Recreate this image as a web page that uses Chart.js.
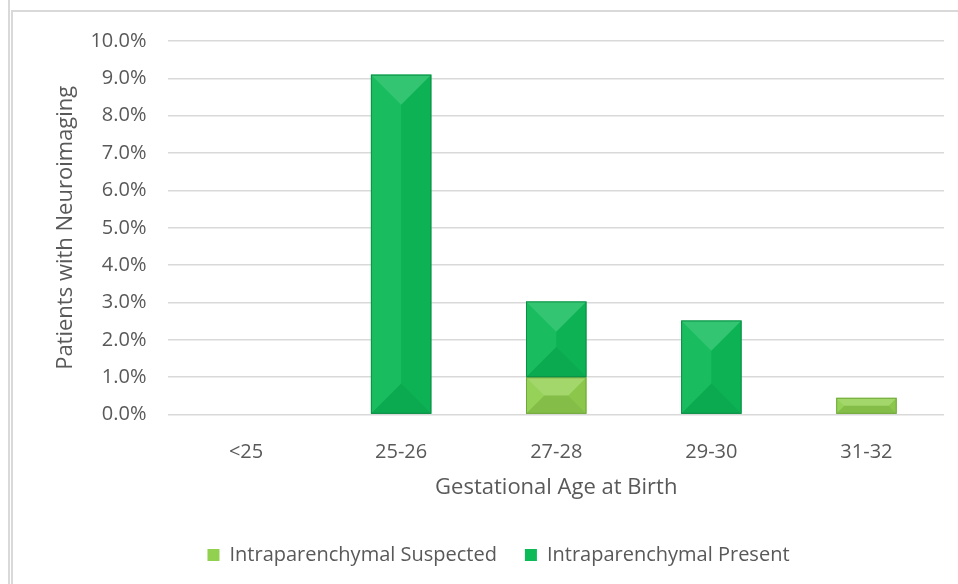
<!DOCTYPE html>
<html>
<head>
<meta charset="utf-8">
<script src="https://cdn.jsdelivr.net/npm/chart.js@4.4.1/dist/chart.umd.min.js"></script>
<style>
  html, body { margin: 0; padding: 0; background: #fff; }
  #page { position: relative; width: 958px; height: 584px; overflow: hidden; }
  #rule { position: absolute; left: 8px; top: 0; width: 2px; height: 584px; background: #d9d9d9; }
  #box { position: absolute; left: 11px; top: 10px; width: 947px; height: 574px;
         border-left: 2px solid #d9d9d9; border-top: 2px solid #d9d9d9; box-sizing: border-box; }
  #wrap { position: absolute; left: 13px; top: 7px; width: 945px; height: 577px; }
</style>
</head>
<body>
<div id="page">
  <div id="rule"></div>
  <div id="box"></div>
  <div id="wrap"><canvas id="chart"></canvas></div>
</div>
<script>
const categories = ['<25', '25-26', '27-28', '29-30', '31-32'];
const suspected = [0, 0, 1.0, 0, 0.45];
const present = [0, 9.1, 2.03, 2.52, 0];
const yTicks = [0, 1, 2, 3, 4, 5, 6, 7, 8, 9, 10];

// draws a pyramid-style bevel over each bar, using the bar elements' own geometry
const bevelPlugin = {
  id: 'bevel',
  afterDatasetsDraw(chart) {
    const ctx = chart.ctx;
    chart.data.datasets.forEach((ds, i) => {
      const meta = chart.getDatasetMeta(i);
      meta.data.forEach(bar => {
        const w = bar.width;
        const top = Math.min(bar.y, bar.base);
        const bottom = Math.max(bar.y, bar.base);
        const h = bottom - top;
        if (h < 1) return;
        const l = bar.x - w / 2, r = bar.x + w / 2;
        const b = Math.min(w / 2, h / 2);
        const face = (pts, color) => {
          ctx.beginPath();
          ctx.moveTo(pts[0][0], pts[0][1]);
          pts.slice(1).forEach(p => ctx.lineTo(p[0], p[1]));
          ctx.closePath();
          ctx.fillStyle = color;
          ctx.fill();
        };
        ctx.save();
        face([[l, top], [r, top], [r - b, top + b], [l + b, top + b]], 'rgba(255,255,255,0.16)');
        face([[l, top], [l + b, top + b], [l + b, bottom - b], [l, bottom]], 'rgba(255,255,255,0.05)');
        face([[r, top], [r, bottom], [r - b, bottom - b], [r - b, top + b]], 'rgba(0,0,0,0.04)');
        face([[l, bottom], [l + b, bottom - b], [r - b, bottom - b], [r, bottom]], 'rgba(0,0,0,0.09)');
        ctx.strokeStyle = ds.borderColor;
        ctx.lineWidth = 1;
        ctx.strokeRect(l + 0.5, top + 0.5, w - 1, h - 1);
        ctx.restore();
      });
    });
  }
};

const ctx = document.getElementById('chart').getContext('2d');
new Chart(ctx, {
  type: 'bar',
  data: {
    labels: categories,
    datasets: [{
      label: 'Intraparenchymal Suspected',
      data: suspected,
      backgroundColor: '#92D050',
      borderColor: '#6FA83A',
      borderWidth: 0,
      barPercentage: 0.39,
      categoryPercentage: 1.0
    }, {
      label: 'Intraparenchymal Present',
      data: present,
      backgroundColor: '#0DBA58',
      borderColor: '#0A8E45',
      borderWidth: 0,
      barPercentage: 0.39,
      categoryPercentage: 1.0
    }]
  },
  options: {
    responsive: true,
    maintainAspectRatio: false,
    animation: false,
    layout: { padding: { left: 40, right: 14, top: 6, bottom: 9 } },
    plugins: {
      tooltip: { enabled: false },
      legend: {
        position: 'bottom',
        labels: {
          font: { family: 'Open Sans', size: 20 },
          color: '#595959',
          boxWidth: 12,
          boxHeight: 12,
          padding: 28
        }
      }
    },
    scales: {
      x: {
        stacked: true,
        grid: { display: false, drawTicks: false },
        border: { display: false },
        ticks: { font: { family: 'Open Sans', size: 20 }, color: '#595959', padding: 26 },
        title: { display: true, text: 'Gestational Age at Birth',
                 font: { family: 'Open Sans', size: 22 }, color: '#595959',
                 padding: { top: -16, bottom: 16 } }
      },
      y: {
        stacked: true,
        min: 0,
        max: 10,
        afterBuildTicks: axis => { axis.ticks = yTicks.map(v => ({ value: v })); },
        grid: { color: '#d9d9d9', lineWidth: 1.5, drawTicks: false },
        border: { display: false },
        ticks: {
          font: { family: 'Open Sans', size: 20 },
          color: '#595959',
          padding: 22,
          callback: v => v.toFixed(1) + '%'
        },
        title: { display: true, text: 'Patients with Neuroimaging',
                 font: { family: 'Open Sans', size: 22 }, color: '#595959',
                 padding: { top: 0, bottom: -11 } }
      }
    }
  },
  plugins: [bevelPlugin]
});
</script>
</body>
</html>
